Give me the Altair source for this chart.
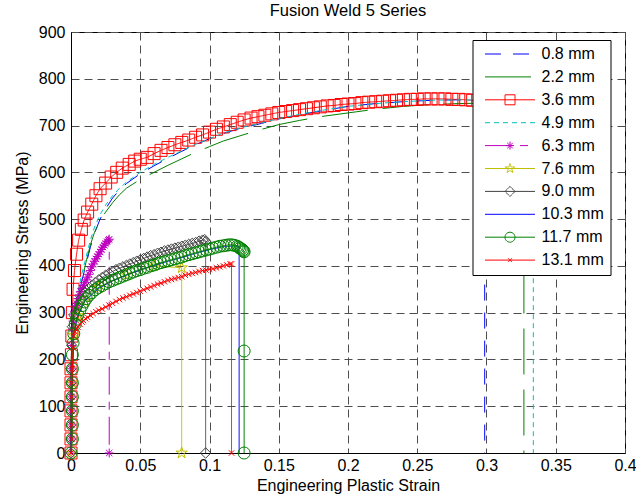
import altair as alt
import pandas as pd

SERIES = ["0.8 mm", "2.2 mm", "3.6 mm", "4.9 mm", "6.3 mm",
          "7.6 mm", "9.0 mm", "10.3 mm", "11.7 mm", "13.1 mm"]

X_08 = [0, 0, 0.0005, 0.001, 0.002, 0.004, 0.006, 0.008, 0.011, 0.014, 0.017, 0.021, 0.025, 0.03, 0.035,
        0.04, 0.05, 0.06, 0.07, 0.08, 0.09, 0.1, 0.11, 0.122, 0.134, 0.15, 0.165, 0.18, 0.2, 0.22, 0.24,
        0.26, 0.28, 0.2987, 0.2987]
Y_08 = [0, 100, 180, 240, 285, 320, 345, 370, 405, 440, 470, 500, 522, 545, 562,
        576, 597, 614, 630, 645, 659, 672, 683, 694, 702, 714, 723, 731, 741, 747, 751,
        754, 755, 753, 0]

X_22 = [0, 0, 0.0005, 0.001, 0.002, 0.004, 0.006, 0.008, 0.011, 0.014, 0.017, 0.021, 0.025, 0.03, 0.035,
        0.04, 0.05, 0.06, 0.07, 0.08, 0.09, 0.1, 0.11, 0.122, 0.134, 0.15, 0.165, 0.18, 0.2, 0.22, 0.24,
        0.26, 0.28, 0.3, 0.315, 0.327, 0.327]
Y_22 = [0, 100, 175, 235, 280, 318, 345, 372, 410, 445, 472, 497, 515, 535, 552,
        566, 585, 600, 615, 629, 643, 655, 667, 678, 689, 702, 711, 719, 727, 735, 741,
        745, 747, 748, 748, 746, 0]

X_36 = [0, 0, 0, 0, 0, 0, 0, 0.0003, 0.0006, 0.001, 0.0015, 0.0025, 0.004, 0.0055, 0.0075, 0.0095,
        0.012, 0.015, 0.018, 0.021, 0.025, 0.029, 0.033, 0.037, 0.042, 0.046,
        0.05, 0.055, 0.06, 0.065, 0.07, 0.075, 0.08, 0.085, 0.09, 0.095, 0.1, 0.105, 0.11, 0.115, 0.12,
        0.125, 0.13, 0.135, 0.14, 0.145, 0.15, 0.155, 0.16, 0.165, 0.17, 0.175, 0.18, 0.185, 0.19, 0.195,
        0.2, 0.205, 0.21, 0.215, 0.22, 0.225, 0.23, 0.235, 0.24, 0.245, 0.25, 0.255, 0.26, 0.265, 0.27,
        0.275, 0.28, 0.285, 0.29, 0.295, 0.3, 0.305, 0.3061]
Y_36 = [0, 30, 60, 90, 120, 150, 180, 210, 250, 300, 350, 390, 425, 455, 478, 498,
        515, 532, 550, 565, 577, 590, 600, 609, 617, 624, 628,
        632, 640, 647, 653, 659, 664, 669, 675, 680, 686, 692, 697, 702, 707, 712,
        716, 719, 722, 725, 728, 730, 732, 734, 736, 738, 740, 742, 743, 745, 746,
        747, 749, 750, 751, 752, 753, 754, 755, 756, 756, 757, 757, 757, 757, 756,
        756, 755, 754, 752, 750, 748, 744, 3]

X_49 = [0, 0, 0.0005, 0.001, 0.002, 0.004, 0.006, 0.008, 0.011, 0.014, 0.017, 0.021, 0.025, 0.03, 0.035,
        0.04, 0.05, 0.06, 0.07, 0.08, 0.09, 0.1, 0.11, 0.122, 0.134, 0.15, 0.165, 0.18, 0.2, 0.22, 0.24,
        0.26, 0.28, 0.3, 0.32, 0.3338, 0.3338]
Y_49 = [0, 100, 185, 245, 292, 330, 358, 385, 420, 455, 483, 510, 530, 550, 566,
        579, 600, 617, 632, 646, 660, 672, 684, 695, 703, 715, 724, 732, 741, 747, 751,
        754, 755, 754, 752, 749, 0]

X_63 = [0, 0, 0, 0, 0, 0, 0, 0.0005, 0.001, 0.0015, 0.002, 0.0025, 0.003, 0.0035, 0.004, 0.005, 0.006,
        0.007, 0.008, 0.009, 0.01, 0.011, 0.012, 0.013, 0.014, 0.015, 0.016, 0.017, 0.018, 0.019, 0.02,
        0.021, 0.022, 0.023, 0.024, 0.025, 0.026, 0.027, 0.0276, 0.0276]
Y_63 = [0, 30, 60, 90, 120, 150, 180, 230, 265, 282, 295, 303, 310, 315, 320, 330, 338,
        345, 352, 358, 364, 370, 376, 382, 390, 398, 404, 410, 415, 420, 425,
        430, 435, 440, 444, 448, 452, 455, 457, 0]

X_76 = [0, 0.001, 0.002, 0.005, 0.01, 0.02, 0.04, 0.06, 0.0799, 0.0799]
Y_76 = [0, 150, 252, 294, 324, 354, 381, 400, 396, 0]

X_90 = [0, 0, 0, 0, 0, 0, 0, 0.0005, 0.001, 0.002, 0.004, 0.007, 0.01, 0.0125, 0.015, 0.0175, 0.02,
        0.0225, 0.025, 0.0275, 0.03, 0.0325, 0.035, 0.0375, 0.04, 0.0425, 0.045, 0.0475, 0.05, 0.0525,
        0.055, 0.0575, 0.06, 0.0625, 0.065, 0.0675, 0.07, 0.0725, 0.075, 0.0775, 0.08, 0.0825, 0.085,
        0.0875, 0.09, 0.0925, 0.095, 0.0965, 0.0972, 0.0972]
Y_90 = [0, 30, 60, 90, 120, 150, 180, 230, 270, 295, 315, 330, 343, 351, 358, 364, 370,
        375, 380, 384, 388, 392, 395, 398, 401, 404, 407, 410, 413, 416,
        419, 422, 424, 427, 429, 432, 434, 436, 438, 440, 442, 444, 446,
        448, 450, 453, 455, 456, 452, 0]

X_103 = [0, 0.001, 0.002, 0.005, 0.01, 0.02, 0.03, 0.04, 0.05, 0.06, 0.07, 0.08, 0.09, 0.1, 0.11,
         0.118, 0.1214, 0.1214]
Y_103 = [0, 150, 255, 293, 325, 352, 368, 380, 391, 401, 410, 418, 427, 435, 441,
         443, 441, 0]

X_117 = [0, 0.001, 0.001, 0.001, 0.001, 0.001, 0.001, 0.001, 0.0015, 0.002, 0.003, 0.004, 0.005, 0.0065,
         0.008, 0.0095, 0.011, 0.013, 0.015, 0.0175, 0.02, 0.0225, 0.025, 0.0275, 0.03, 0.0325, 0.035,
         0.0375, 0.04, 0.0425, 0.045, 0.0475, 0.05, 0.0525, 0.055, 0.0575, 0.06, 0.0625, 0.065, 0.0675,
         0.07, 0.0725, 0.075, 0.0775, 0.08, 0.0825, 0.085, 0.0875, 0.09, 0.0925, 0.095, 0.0975, 0.1,
         0.1025, 0.105, 0.1075, 0.11, 0.112, 0.114, 0.116, 0.118, 0.12, 0.121, 0.122, 0.123, 0.124,
         0.1245, 0.125, 0.125, 0.125]
Y_117 = [0, 30, 60, 90, 120, 150, 180, 210, 235, 255, 275, 286, 295, 306,
         315, 323, 330, 337, 343, 349, 354, 358, 362, 366, 369, 372, 375,
         378, 381, 384, 387, 390, 392, 395, 397, 400, 402, 405, 407, 409,
         411, 413, 415, 417, 419, 422, 424, 426, 428, 430, 432, 434, 436,
         438, 440, 442, 443, 444, 445, 445, 444, 442, 440, 438, 436, 434,
         432, 430, 218, 0]

X_131 = [0, 0.0005, 0.0005, 0.0005, 0.0005, 0.0005, 0.001, 0.0015, 0.002, 0.003, 0.004, 0.005, 0.0065,
         0.008, 0.009, 0.0105, 0.012, 0.014, 0.016, 0.018, 0.02, 0.0225, 0.025, 0.0275, 0.03, 0.0325,
         0.035, 0.0375, 0.04, 0.0425, 0.045, 0.0475, 0.05, 0.0525, 0.055, 0.0575, 0.06, 0.0625, 0.065,
         0.0675, 0.07, 0.0725, 0.075, 0.0775, 0.08, 0.0825, 0.085, 0.0875, 0.09, 0.0925, 0.095, 0.0975,
         0.1, 0.1025, 0.105, 0.1075, 0.11, 0.1125, 0.115, 0.1159, 0.1159]
Y_131 = [0, 30, 60, 90, 120, 150, 180, 225, 250, 259, 265, 269, 275,
         280, 283, 287, 290, 294, 298, 302, 305, 308, 312, 316, 320, 324,
         328, 331, 334, 337, 340, 343, 346, 349, 352, 355, 358, 361, 363,
         366, 369, 371, 373, 375, 377, 380, 382, 384, 386, 388, 390, 391,
         393, 394, 396, 398, 400, 402, 404, 404, 0]

XS = [X_08, X_22, X_36, X_49, X_63, X_76, X_90, X_103, X_117, X_131]
YS = [Y_08, Y_22, Y_36, Y_49, Y_63, Y_76, Y_90, Y_103, Y_117, Y_131]

X_TICKS = [0, 0.05, 0.1, 0.15, 0.2, 0.25, 0.3, 0.35, 0.4]
Y_TICKS = [0, 100, 200, 300, 400, 500, 600, 700, 800, 900]

# ---- styles ----
COLORS = ["#0000ff", "#008000", "#ff0000", "#00bfbf", "#bf00bf",
          "#bfbf00", "#404040", "#0000ff", "#008000", "#ff0000"]
DASHES = [[16, 12], [46, 15], [1, 0], [5, 4], [28, 7, 8, 7],
          [1, 0], [1, 0], [1, 0], [1, 0], [1, 0]]

P_AST = "M0,-1V1M-1,0H1M-0.7,-0.7L0.7,0.7M-0.7,0.7L0.7,-0.7"
P_STAR = ("M0,-1L0.223,-0.307L0.951,-0.309L0.361,0.117L0.588,0.809L0,0.38"
          "L-0.588,0.809L-0.361,0.117L-0.951,-0.309L-0.223,-0.307Z")
P_DIAM = "M0,-1L1,0L0,1L-1,0Z"
P_X = "M-1,-1L1,1M-1,1L1,-1"
MARKERS = [None, None, ("square", 144), None, (P_AST, 81),
           (P_STAR, 144), (P_DIAM, 110), None, ("circle", 144), (P_X, 30)]

LINE = "M-0.3,0H9.7"
LEG_PATHS = [
    LINE,
    LINE,
    LINE + "M3.7,-1H5.7V1H3.7Z",
    LINE,
    LINE + "M4.7,-0.8V0.8M3.9,0H5.5M4.14,-0.56L5.26,0.56M4.14,0.56L5.26,-0.56",
    LINE + ("M4.7,-1L4.923,-0.307L5.651,-0.309L5.061,0.117L5.288,0.809L4.7,0.38"
            "L4.112,0.809L4.339,0.117L3.749,-0.309L4.477,-0.307Z"),
    LINE + "M4.7,-1L5.7,0L4.7,1L3.7,0Z",
    LINE,
    LINE + "M5.7,0A1,1,0,1,1,3.7,0A1,1,0,1,1,5.7,0Z",
    LINE + "M4.3,-0.4L5.1,0.4M4.3,0.4L5.1,-0.4",
]

rows = []
for name, xs, ys in zip(SERIES, XS, YS):
    for i, (a, b) in enumerate(zip(xs, ys)):
        rows.append({"series": name, "strain": a, "stress": b, "i": i})
df = pd.DataFrame(rows)

FONT = "Liberation Sans"
FS = 16

x_enc = alt.X("strain:Q", scale=alt.Scale(domain=[0, 0.4], nice=False, zero=False),
              axis=alt.Axis(values=X_TICKS, format="~g", title="Engineering Plastic Strain"))
y_enc = alt.Y("stress:Q", scale=alt.Scale(domain=[0, 900], nice=False),
              axis=alt.Axis(values=Y_TICKS, title="Engineering Stress (MPa)"))

legend = alt.Legend(orient="none", legendX=401.5, legendY=8, padding=6, rowPadding=6.9,
                    symbolSize=100, symbolStrokeWidth=1, labelOffset=47, labelFontSize=FS,
                    labelFont=FONT, labelColor="black", strokeColor="black", fillColor="white",
                    cornerRadius=0, title=None)

color_enc = alt.Color("series:N", scale=alt.Scale(domain=SERIES, range=COLORS), legend=legend, title=None)
dash_enc = alt.StrokeDash("series:N", scale=alt.Scale(domain=SERIES, range=DASHES), legend=legend, title=None)
shape_enc = alt.Shape("series:N", scale=alt.Scale(domain=SERIES, range=LEG_PATHS), legend=legend, title=None)

base = alt.Chart(df)
layers = []
for k, name in enumerate(SERIES):
    sub = base.transform_filter(alt.datum.series == name)
    layers.append(sub.mark_line(strokeWidth=1).encode(
        x=x_enc, y=y_enc, order="i:Q", color=color_enc, strokeDash=dash_enc))
    if MARKERS[k]:
        shp, sz = MARKERS[k]
        layers.append(sub.mark_point(shape=shp, size=sz, filled=False, strokeWidth=1,
                                     color=COLORS[k], opacity=1).encode(x=x_enc, y=y_enc))

legend_layer = base.transform_filter("false").mark_point(filled=False, size=100, strokeWidth=1, opacity=1).encode(
    x=x_enc, y=y_enc, color=color_enc, shape=shape_enc)
layers.append(legend_layer)

chart = alt.layer(*layers).properties(
    width=554, height=421,
    padding={"left": 71, "top": 32, "right": 11, "bottom": 46},
    autosize=alt.AutoSizeParams(type="none"),
    title=alt.Title("Fusion Weld 5 Series", font=FONT, fontSize=16.5, fontWeight="normal",
                    color="black", anchor="middle", baseline="alphabetic", offset=7, dy=15),
).configure_axis(
    labelFont=FONT, labelFontSize=FS, labelColor="black", titleFont=FONT, titleFontSize=FS,
    titleFontWeight="normal", titleColor="black", grid=True, gridDash=[8, 5], gridColor="#4d4d4d",
    gridWidth=1, ticks=False, domainColor="black", labelFlush=False, labelOverlap=False,
).configure_axisX(labelPadding=4, titlePadding=4).configure_axisY(labelPadding=6, titlePadding=8
).configure_view(stroke="black", strokeWidth=1)

chart.save("out.html", embed_options={"renderer": "svg", "actions": False})
